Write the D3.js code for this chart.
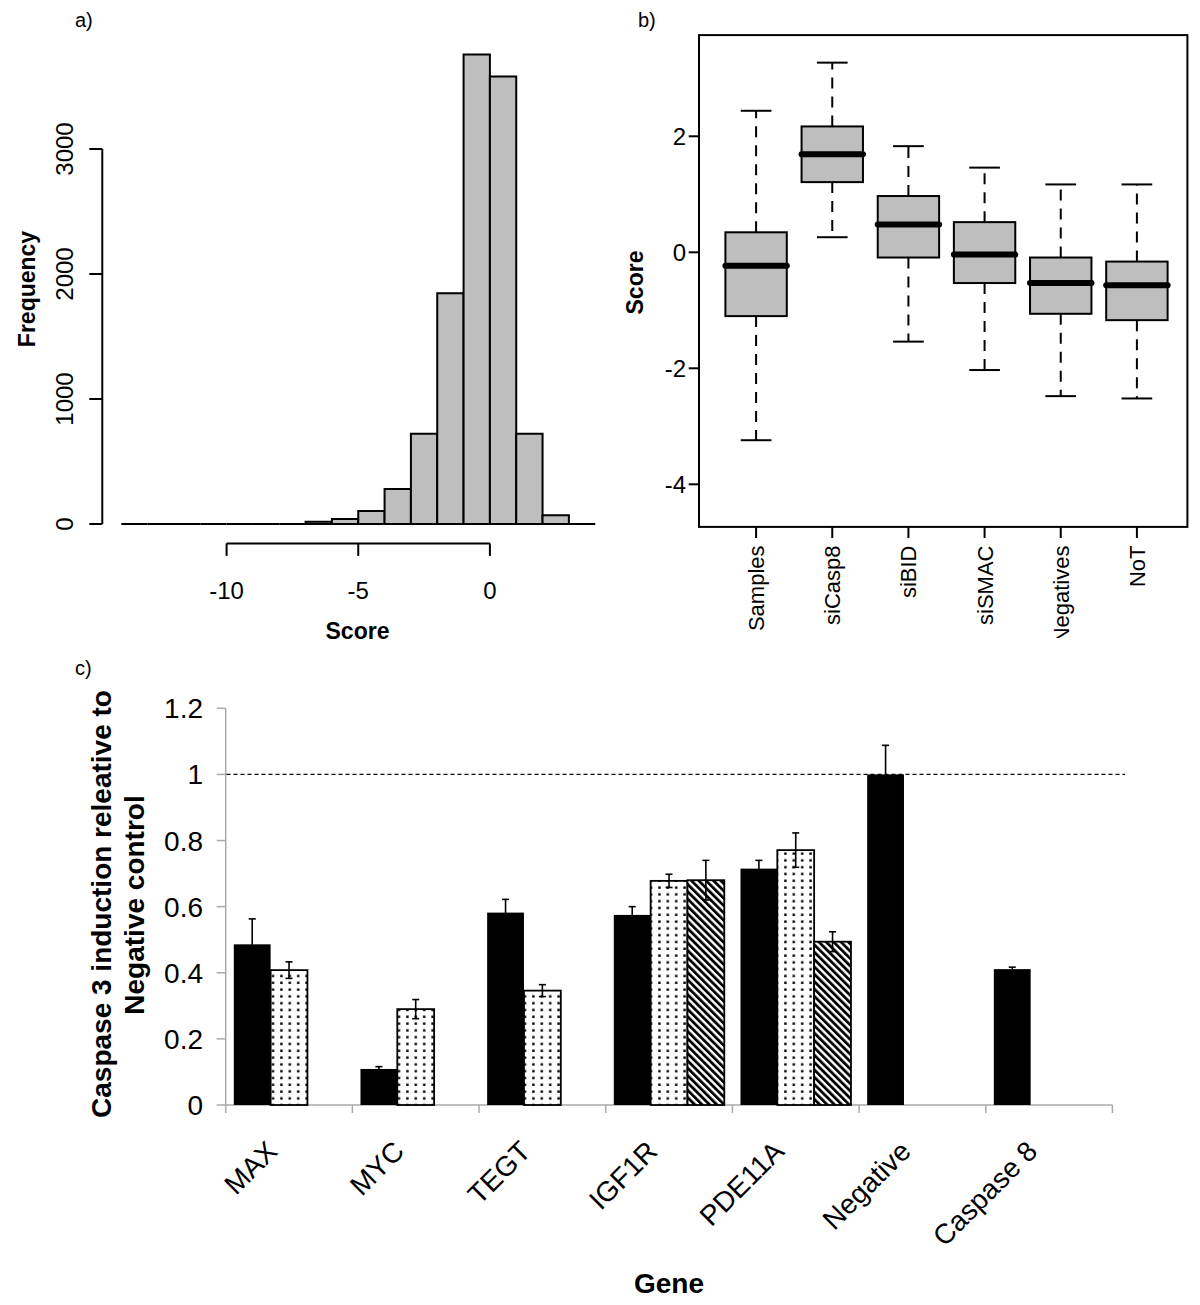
<!DOCTYPE html>
<html>
<head>
<meta charset="utf-8">
<script src="https://cdn.jsdelivr.net/npm/d3@7"></script>
<style>
  body { margin: 0; background: #fff; }
  text { font-family: "Liberation Sans", Arial, Helvetica, sans-serif; fill: #000; }
</style>
</head>
<body>
<script>
// ---------- Panel a: histogram ----------
const histBinStarts = [-14,-13,-12,-11,-10,-9,-8,-7,-6,-5,-4,-3,-2,-1,0,1,2,3];
const histFreq      = [0,0,0,0,0,0,0,18,40,105,281,722,1847,3757,3581,723,70,0];
const histXTicks = [-10,-5,0];
const histYTicks = [0,1000,2000,3000];

// ---------- Panel b: box plots ----------
const boxGroups   = ["Samples","siCasp8","siBID","siSMAC","Negatives","NoT"];
const boxWhiskLo  = [-3.24, 0.26, -1.54, -2.03, -2.48, -2.52];
const boxQ1       = [-1.10, 1.21, -0.09, -0.53, -1.06, -1.17];
const boxMedian   = [-0.23, 1.69, 0.48, -0.04, -0.53, -0.57];
const boxQ3       = [0.345, 2.17, 0.97, 0.52, -0.09, -0.16];
const boxWhiskHi  = [2.44, 3.27, 1.83, 1.46, 1.17, 1.17];
const boxYTicks   = [-4,-2,0,2];

// ---------- Panel c: bar chart ----------
const genes   = ["MAX","MYC","TEGT","IGF1R","PDE11A","Negative","Caspase 8"];
const series1 = [0.486, 0.109, 0.582, 0.575, 0.715, 1.0, 0.411];   // black
const err1    = [0.077, 0.007, 0.040, 0.025, 0.025, 0.088, 0.006];
const series2 = [0.408, 0.290, 0.346, 0.678, 0.771, null, null];   // dotted
const err2    = [0.025, 0.029, 0.018, 0.020, 0.052, null, null];
const series3 = [null, null, null, 0.680, 0.494, null, null];      // hatched
const err3    = [null, null, null, 0.060, 0.030, null, null];
const barYTicks = [0, 0.2, 0.4, 0.6, 0.8, 1, 1.2];
const refLine = 1;

const svg = d3.select("body").append("svg")
  .attr("width", 1200).attr("height", 1305);

const defs = svg.append("defs");
// dotted pattern
const dp = defs.append("pattern").attr("id","dots").attr("patternUnits","userSpaceOnUse")
  .attr("width", 8.4).attr("height", 6.8);
dp.append("rect").attr("width", 8.4).attr("height", 6.8).attr("fill", "#fff");
dp.append("rect").attr("x", 3).attr("y", 2.4).attr("width", 2.4).attr("height", 2.4).attr("fill", "#000");
// hatched pattern
const hp = defs.append("pattern").attr("id","hatch").attr("patternUnits","userSpaceOnUse")
  .attr("width", 5.2).attr("height", 10).attr("patternTransform","rotate(-45)");
hp.append("rect").attr("width", 5.2).attr("height", 10).attr("fill", "#fff");
hp.append("rect").attr("width", 2.8).attr("height", 10).attr("fill", "#000");

// ======================= Panel a =======================
{
  const g = svg.append("g");
  const x = d3.scaleLinear().domain([-10, 0]).range([226.6, 489.9]);
  const y = d3.scaleLinear().domain([0, 3000]).range([524, 149]);

  g.selectAll("path.bin").data(histBinStarts).join("path")
    .attr("class","bin")
    .attr("d", (s, i) => {
      const x0 = x(s), x1 = x(s + 1), y0 = y(0), y1 = y(histFreq[i]);
      return `M${x0},${y0}V${y1}H${x1}V${y0}Z`;
    })
    .attr("fill", "#bebebe").attr("stroke", "#000").attr("stroke-width", 2);

  // y axis
  const ya = g.append("g").attr("transform", `translate(${x(-14) - 19},0)`);
  ya.append("line").attr("y1", y(0)).attr("y2", y(3000)).attr("stroke","#000").attr("stroke-width",2);
  histYTicks.forEach(t => {
    ya.append("line").attr("x1", 0).attr("x2", -13).attr("y1", y(t)).attr("y2", y(t))
      .attr("stroke","#000").attr("stroke-width",2);
    ya.append("text").attr("transform", `translate(-29,${y(t)}) rotate(-90)`)
      .attr("text-anchor","middle").attr("font-size",24).text(t);
  });

  // x axis
  const xa = g.append("g").attr("transform", `translate(0,543.4)`);
  xa.append("line").attr("x1", x(-10)).attr("x2", x(0)).attr("stroke","#000").attr("stroke-width",2);
  histXTicks.forEach(t => {
    xa.append("line").attr("x1", x(t)).attr("x2", x(t)).attr("y1", 0).attr("y2", 12.5)
      .attr("stroke","#000").attr("stroke-width",2);
    xa.append("text").attr("x", x(t)).attr("y", 55.5).attr("text-anchor","middle")
      .attr("font-size",24).text(t);
  });

  g.append("text").attr("x", 357.5).attr("y", 639).attr("text-anchor","middle")
    .attr("font-size",23).attr("font-weight","bold").text("Score");
  g.append("text").attr("transform","translate(35,289) rotate(-90)").attr("text-anchor","middle")
    .attr("font-size",23).attr("font-weight","bold").text("Frequency");
  g.append("text").attr("x", 75).attr("y", 27).attr("font-size",20).text("a)");
}

// ======================= Panel b =======================
{
  defs.append("clipPath").attr("id","clipb").append("rect")
    .attr("x", 600).attr("y", 0).attr("width", 600).attr("height", 638);
  const g = svg.append("g").attr("clip-path","url(#clipb)");
  const x = d3.scalePoint().domain(boxGroups).range([756.1, 1136.9]);
  const y = d3.scaleLinear().domain([-2, 0]).range([368.3, 252.3]);
  const bw = 61.4;

  boxGroups.forEach((k, i) => {
    const cx = x(k);
    g.append("line").attr("x1", cx).attr("x2", cx).attr("y1", y(boxQ3[i])).attr("y2", y(boxWhiskHi[i]))
      .attr("stroke","#000").attr("stroke-width",2).attr("stroke-dasharray","11,8");
    g.append("line").attr("x1", cx).attr("x2", cx).attr("y1", y(boxQ1[i])).attr("y2", y(boxWhiskLo[i]))
      .attr("stroke","#000").attr("stroke-width",2).attr("stroke-dasharray","11,8");
    [boxWhiskHi[i], boxWhiskLo[i]].forEach(v => {
      g.append("line").attr("x1", cx - bw / 4).attr("x2", cx + bw / 4).attr("y1", y(v)).attr("y2", y(v))
        .attr("stroke","#000").attr("stroke-width",2);
    });
    g.append("rect").attr("x", cx - bw / 2).attr("width", bw)
      .attr("y", y(boxQ3[i])).attr("height", y(boxQ1[i]) - y(boxQ3[i]))
      .attr("fill","#bebebe").attr("stroke","#000").attr("stroke-width",2);
    g.append("line").attr("x1", cx - bw / 2).attr("x2", cx + bw / 2)
      .attr("y1", y(boxMedian[i])).attr("y2", y(boxMedian[i]))
      .attr("stroke","#000").attr("stroke-width",6).attr("stroke-linecap","round");
    g.append("text").attr("transform", `translate(${cx + 8},545.5) rotate(-90)`)
      .attr("text-anchor","end").attr("font-size",22).text(k);
    g.append("line").attr("x1", cx).attr("x2", cx).attr("y1", 526.9).attr("y2", 538)
      .attr("stroke","#000").attr("stroke-width",2);
  });

  g.append("rect").attr("x", 699).attr("y", 35.1).attr("width", 1187.4 - 699).attr("height", 526.9 - 35.1)
    .attr("fill","none").attr("stroke","#000").attr("stroke-width",2);
  boxYTicks.forEach(t => {
    g.append("line").attr("x1", 688.7).attr("x2", 699).attr("y1", y(t)).attr("y2", y(t))
      .attr("stroke","#000").attr("stroke-width",2);
    g.append("text").attr("x", 686).attr("y", y(t)).attr("dy","0.36em").attr("text-anchor","end")
      .attr("font-size",24).text(t);
  });
  g.append("text").attr("transform","translate(643,282.5) rotate(-90)").attr("text-anchor","middle")
    .attr("font-size",23).attr("font-weight","bold").text("Score");
  g.append("text").attr("x", 638).attr("y", 27).attr("font-size",20).text("b)");
}

// ======================= Panel c =======================
{
  const g = svg.append("g");
  const x = d3.scaleBand().domain(genes).range([225.7, 1112.4]);
  const xs = d3.scaleBand().domain([0,1,2]).range([8.1, x.bandwidth() - 8.1]);
  const y = d3.scaleLinear().domain([0, 1.2]).range([1105, 708.3]);
  const axisCol = "#aaaaaa";

  g.append("line").attr("x1", 225.7).attr("x2", 225.7).attr("y1", y(0)).attr("y2", y(1.2))
    .attr("stroke", axisCol).attr("stroke-width", 1.5);
  barYTicks.forEach(t => {
    g.append("line").attr("x1", 216.7).attr("x2", 225.7).attr("y1", y(t)).attr("y2", y(t))
      .attr("stroke", axisCol).attr("stroke-width", 1.5);
    g.append("text").attr("x", 203).attr("y", y(t)).attr("dy", "0.36em").attr("text-anchor","end")
      .attr("font-size", 28).text(t);
  });
  g.append("line").attr("x1", 225.7).attr("x2", 1112.4).attr("y1", y(0)).attr("y2", y(0))
    .attr("stroke", axisCol).attr("stroke-width", 1.5);
  genes.concat(["__end"]).forEach((k, i) => {
    const xx = 225.7 + i * x.step();
    g.append("line").attr("x1", xx).attr("x2", xx).attr("y1", y(0)).attr("y2", y(0) + 8)
      .attr("stroke", axisCol).attr("stroke-width", 1.5);
  });

  g.append("line").attr("x1", 226.5).attr("x2", 1125).attr("y1", y(refLine)).attr("y2", y(refLine))
    .attr("stroke","#000").attr("stroke-width",1.3).attr("stroke-dasharray","4,3");

  const seriesList = [
    {vals: series1, errs: err1, fill: "#000"},
    {vals: series2, errs: err2, fill: "url(#dots)"},
    {vals: series3, errs: err3, fill: "url(#hatch)"}
  ];
  seriesList.forEach((s, si) => {
    genes.forEach((k, i) => {
      const v = s.vals[i];
      if (v == null) return;
      const bx = x(k) + xs(si), w = xs.bandwidth();
      g.append("rect").attr("x", bx).attr("width", w).attr("y", y(v)).attr("height", y(0) - y(v))
        .attr("fill", s.fill).attr("stroke", "#000").attr("stroke-width", si === 0 ? 0 : 1.8);
      const e = s.errs[i];
      const cx = bx + w / 2;
      g.append("line").attr("x1", cx).attr("x2", cx).attr("y1", y(v - e)).attr("y2", y(v + e))
        .attr("stroke","#000").attr("stroke-width",1.6);
      [v - e, v + e].forEach(ev => {
        g.append("line").attr("x1", cx - 3.5).attr("x2", cx + 3.5).attr("y1", y(ev)).attr("y2", y(ev))
          .attr("stroke","#000").attr("stroke-width",1.6);
      });
    });
  });

  genes.forEach(k => {
    const cx = x(k) + x.bandwidth() / 2;
    g.append("text").attr("transform", `translate(${cx - 10},1153) rotate(-45)`)
      .attr("text-anchor","end").attr("font-size", 28).text(k);
  });

  g.append("text").attr("x", 669).attr("y", 1293).attr("text-anchor","middle")
    .attr("font-size", 28).attr("font-weight","bold").text("Gene");
  g.append("text").attr("transform","translate(111,904) rotate(-90)").attr("text-anchor","middle")
    .attr("font-size", 28).attr("font-weight","bold").text("Caspase 3 induction releative to");
  g.append("text").attr("transform","translate(144,905) rotate(-90)").attr("text-anchor","middle")
    .attr("font-size", 28).attr("font-weight","bold").text("Negative control");
  g.append("text").attr("x", 75).attr("y", 675).attr("font-size", 20).text("c)");
}
</script>
</body>
</html>
